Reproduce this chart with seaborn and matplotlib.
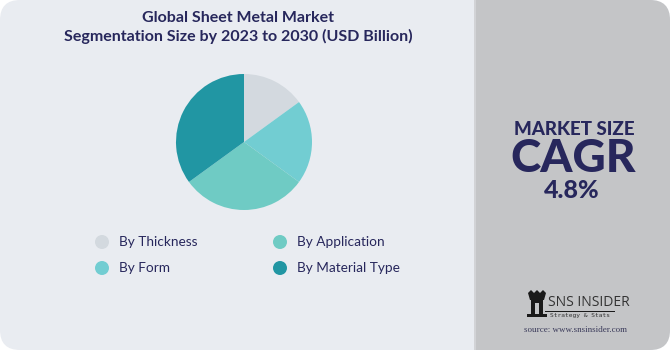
import matplotlib
matplotlib.use("Agg")
import matplotlib.pyplot as plt
import seaborn as sns
from matplotlib.patches import FancyBboxPatch, Rectangle, Circle, Polygon

sns.set_theme(style="white")
plt.rcParams['font.family'] = ['Lato', 'DejaVu Sans']

segments = ["By Thickness", "By Form", "By Application", "By Material Type"]
shares = [15, 20, 30, 35]
colors = ["#d3d9df", "#72cdd2", "#6fcbc4", "#2196a3"]
title_lines = ["Global Sheet Metal Market", "Segmentation Size by 2023 to 2030 (USD Billion)"]
cagr_value = "4.8%"

W, H = 670, 350
fig = plt.figure(figsize=(W / 100, H / 100), dpi=100)
fig.patch.set_facecolor("white")

navy = "#27275c"

# background panels with rounded outer corners
bg = fig.add_axes([0, 0, 1, 1])
bg.set_xlim(0, W)
bg.set_ylim(H, 0)
bg.axis("off")
bg.add_patch(FancyBboxPatch((0, 0), W, H, boxstyle="round,pad=0,rounding_size=20",
                            fc="#e9ecf1", ec="none"))
bg.add_patch(FancyBboxPatch((474, 0), W - 474, H, boxstyle="round,pad=0,rounding_size=20",
                            fc="#c4c5c7", ec="none"))
bg.add_patch(Rectangle((474, 0), 30, H, fc="#c4c5c7", ec="none"))
bg.add_patch(Rectangle((474, 0), 2, H, fc="#d2d3d6", ec="none"))

# title
bg.text(238, 18, title_lines[0], ha="center", va="center", fontsize=11.5,
        fontweight="bold", color=navy)
bg.text(238, 36, title_lines[1], ha="center", va="center", fontsize=11.5,
        fontweight="bold", color=navy)

# pie chart
cx, cy, r = 244, 142, 68
pax = fig.add_axes([(cx - r) / W, 1 - (cy + r) / H, 2 * r / W, 2 * r / H])
pax.pie(shares, colors=colors, startangle=90, counterclock=False,
        wedgeprops=dict(linewidth=0))
pax.set_xlim(-1, 1)
pax.set_ylim(-1, 1)
pax.set_aspect("equal")

# legend
legend_pos = [(102, 242), (102, 268), (280, 242), (280, 268)]
for idx, (lx, ly) in enumerate(legend_pos):
    bg.add_patch(Circle((lx, ly), 7, fc=colors[idx], ec="none"))
    bg.text(lx + 17, ly, segments[idx], ha="left", va="center", fontsize=9.8, color=navy)

# right-side figures
bg.text(574, 135, "MARKET SIZE", ha="center", va="baseline", fontsize=13.5,
        fontweight="black", color=navy)
bg.text(573, 172, "CAGR", ha="center", va="baseline", fontsize=33,
        fontweight="black", color=navy)
bg.text(572, 198, cagr_value, ha="center", va="baseline", fontsize=18,
        fontweight="black", color=navy)

# logo
ink = "#1a1a1a"
bg.add_patch(Polygon([(528, 293), (531, 290), (534, 293), (537, 290), (540, 293),
                      (543, 290), (546, 293), (544, 300), (530, 300)], closed=True,
                     fc=ink, ec="none"))
bg.add_patch(Rectangle((531, 300), 12, 14, fc=ink, ec="none"))
bg.add_patch(Rectangle((535, 303), 4, 11, fc="#c4c5c7", ec="none"))
bg.add_patch(Rectangle((527, 314), 20, 3, fc=ink, ec="none"))
bg.add_patch(Rectangle((545, 311), 70, 1.2, fc=ink, ec="none"))
bg.text(548, 303, "SNS INSIDER", ha="left", va="center", fontsize=10,
        color="#333333", family=["Open Sans", "DejaVu Sans"])
bg.text(550, 316, "Strategy & Stats", ha="left", va="center", fontsize=4.5,
        color="#333333", family=["DejaVu Sans Mono"])
bg.text(575, 330, "source: www.snsinsider.com", ha="center", va="center",
        fontsize=6.5, color="#3a3a5a", family=["Liberation Serif", "DejaVu Serif"])

fig.savefig("out.png", dpi=100, facecolor=fig.get_facecolor())
